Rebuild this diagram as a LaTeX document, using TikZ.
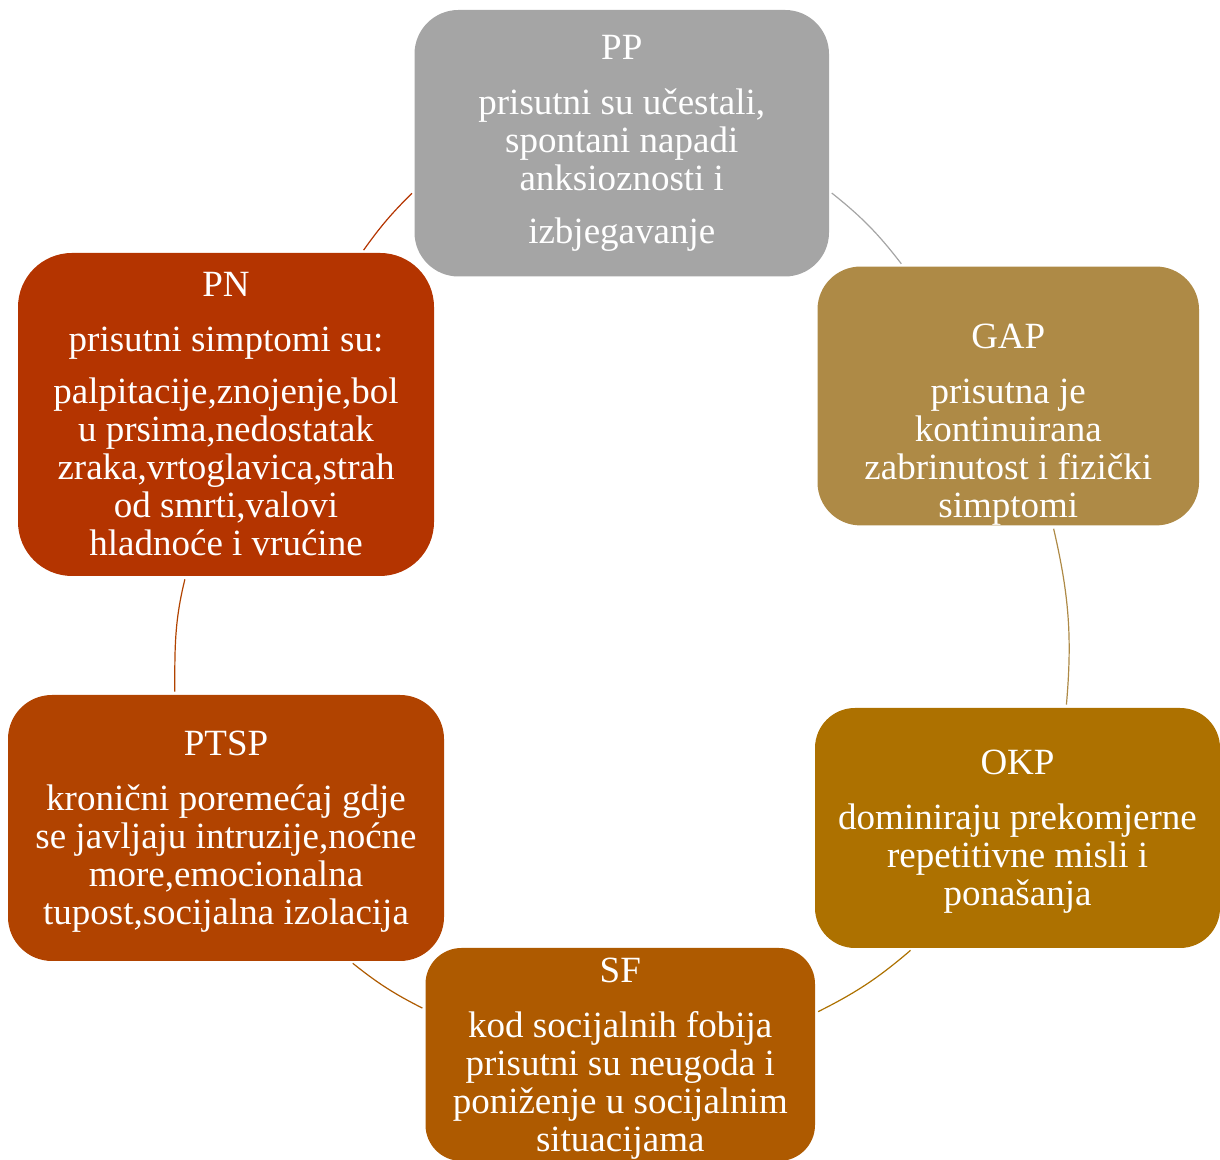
\documentclass[tikz,border=0pt]{standalone}
\usepackage{fontspec}
\setmainfont{Liberation Serif}
\definecolor{ppgray}{HTML}{A5A5A5}
\definecolor{gapgold}{HTML}{AE8A46}
\definecolor{okpgold}{HTML}{AD7100}
\definecolor{sforange}{HTML}{AE5A00}
\definecolor{ptsporange}{HTML}{B14300}
\definecolor{pnred}{HTML}{B43400}
\begin{document}
\begin{tikzpicture}[
    x=0.5pt, y=0.5pt,
    box/.style={%
      rectangle,
      inner sep=0pt,
      align=center,
      text=white,
      font=\fontsize{18.5pt}{19pt}\selectfont,
    },
    link/.style={%
      line width=0.6pt,
      shorten <=1.5pt,
      shorten >=1.5pt,
    },
  ]
    \useasboundingbox (0,0) rectangle (1220,1160);

    \node [box, fill=ppgray, rounded corners=22pt, minimum width=207.25pt, minimum height=133.25pt] (PP) at (621.75,1016.75)
      {PP\\[8.5pt] prisutni su učestali,\\ spontani napadi\\ anksioznosti i\\[7.5pt] izbjegavanje};
    \path (PP) ++(386.5,-252.75) node [box, fill=gapgold, rounded corners=21.5pt, minimum width=190.75pt, minimum height=129pt] (GAP)
      {\rule{0pt}{41pt}GAP\\[8.5pt] prisutna je\\ kontinuirana\\ zabrinutost i fizički\\ simptomi};
    \path (GAP) ++(9.25,-432) node [box, fill=okpgold, rounded corners=20pt, minimum width=202.5pt, minimum height=120pt] (OKP)
      {\rule{0pt}{16pt}OKP\\[8.5pt] dominiraju prekomjerne\\ repetitivne misli i\\ ponašanja};
    \path (OKP) ++(-397.25,-226.5) node [box, fill=sforange, rounded corners=18pt, minimum width=194.75pt, minimum height=106.5pt] (SF)
      {\rule{0pt}{16pt}SF\\[8.5pt] kod socijalnih fobija\\ prisutni su neugoda i\\ poniženje u socijalnim\\ situacijama};
    \path (SF) ++(-394.25,226.5) node [box, fill=ptsporange, rounded corners=22pt, minimum width=218pt, minimum height=133pt] (PTSP)
      {\rule{0pt}{16pt}PTSP\\[8.5pt] kronični poremećaj gdje\\ se javljaju intruzije,noćne\\ more,emocionalna\\ tupost,socijalna izolacija};
    \path (PTSP) ++(0,413.5) node [box, fill=pnred, rounded corners=27pt, minimum width=208pt, minimum height=161.5pt] (PN)
      {PN\\[8.5pt] prisutni simptomi su:\\[7pt] palpitacije,znojenje,bol\\ u prsima,nedostatak\\ zraka,vrtoglavica,strah\\ od smrti,valovi\\ hladnoće i vrućine};

    \draw [link, ppgray] (PP.-13.8) to [bend left=7] (GAP.129.4);
    \draw [link, gapgold] (GAP.-71) to [out=-77, in=85] (OKP.68.1);
    \draw [link, okpgold] (OKP.229) to [bend left=7] (SF.12.4);
    \draw [link, sforange] (SF.167.3) to [bend left=6] (PTSP.-47.8);
    \draw [link, ptsporange] (PTSP.111) to [out=90, in=256] (PN.256.1);
    \draw [link, pnred] (PN.50.5) to [bend left=5] (PP.193.8);
\end{tikzpicture}
\end{document}
